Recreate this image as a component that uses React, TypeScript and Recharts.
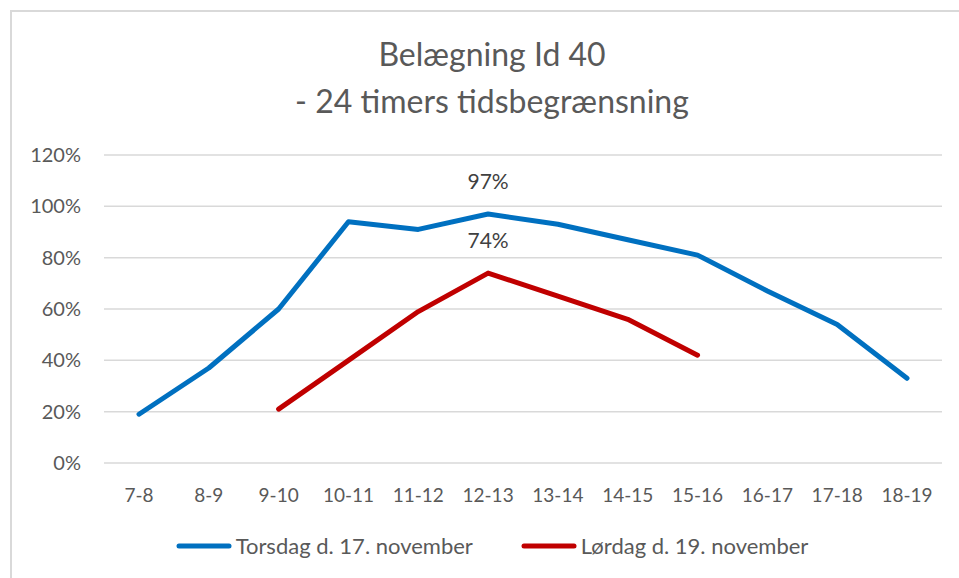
import {
  CartesianGrid,
  LabelList,
  Legend,
  Line,
  LineChart,
  XAxis,
  YAxis,
} from 'recharts';

const categories = ['7-8', '8-9', '9-10', '10-11', '11-12', '12-13', '13-14', '14-15', '15-16', '16-17', '17-18', '18-19'];
const torsdag = [19, 37, 60, 94, 91, 97, 93, 87, 81, 67, 54, 33];
const loerdag = [null, null, 21, 40, 59, 74, 65, 56, 42, null, null, null];
const yTicks = [0, 20, 40, 60, 80, 100, 120];
const labelledCategory = '12-13';

const seriesNames = {
  torsdag: 'Torsdag d. 17. november',
  loerdag: 'Lørdag d. 19. november',
};

const data = categories.map((hour, i) => ({
  hour,
  torsdag: torsdag[i],
  loerdag: loerdag[i],
}));

const font = 'Lato, "Noto Sans", sans-serif';
const textColor = '#595959';
const blue = '#0070C0';
const red = '#C00000';

function PeakLabel(props: any) {
  const { x, y, value, index } = props;
  if (categories[index] !== labelledCategory || value == null) return null;
  return (
    <text
      x={x}
      y={y - 25}
      textAnchor="middle"
      fill="#404040"
      fontSize={21}
      fontFamily={font}
    >
      {value}%
    </text>
  );
}

function LegendContent() {
  const items = [
    { name: seriesNames.torsdag, color: blue },
    { name: seriesNames.loerdag, color: red },
  ];
  return (
    <div
      style={{
        display: 'flex',
        justifyContent: 'center',
        alignItems: 'center',
        gap: 48,
        fontFamily: font,
        fontSize: 22,
        color: textColor,
      }}
    >
      {items.map((it) => (
        <div key={it.name} style={{ display: 'flex', alignItems: 'center' }}>
          <svg width={56} height={8} style={{ marginRight: 4 }}>
            <line x1={3} y1={4} x2={53} y2={4} stroke={it.color} strokeWidth={5} strokeLinecap="round" />
          </svg>
          <span>{it.name}</span>
        </div>
      ))}
    </div>
  );
}

export default function App() {
  return (
    <div
      style={{
        position: 'absolute',
        left: 0,
        top: 0,
        width: 959,
        height: 578,
        overflow: 'hidden',
        background: '#fff',
      }}
    >
      <div
        style={{
          position: 'absolute',
          left: 10,
          top: 10,
          width: 1100,
          height: 800,
          border: '2px solid #D9D9D9',
          boxSizing: 'border-box',
        }}
      />
      <div
        style={{
          position: 'absolute',
          left: 0,
          top: 30,
          width: 984,
          textAlign: 'center',
          fontFamily: font,
          fontSize: 32,
          lineHeight: '47px',
          color: textColor,
        }}
      >
        <div>Belægning Id 40</div>
        <div>- 24 timers tidsbegrænsning</div>
      </div>
      <div style={{ position: 'absolute', left: 0, top: 0 }}>
        <LineChart
          width={959}
          height={578}
          data={data}
          margin={{ top: 155, right: 17, bottom: 65, left: 0 }}
        >
          <CartesianGrid vertical={false} stroke="#D9D9D9" strokeWidth={1.5} />
          <XAxis
            dataKey="hour"
            axisLine={false}
            tickLine={false}
            tickSize={0}
            tickMargin={26}
            height={50}
            padding={{ left: 35, right: 35 }}
            interval={0}
            tick={{ fill: textColor, fontSize: 19, fontFamily: font }}
          />
          <YAxis
            domain={[0, 120]}
            ticks={yTicks}
            axisLine={false}
            tickLine={false}
            tickSize={0}
            tickMargin={23}
            width={104}
            tickFormatter={(v: number) => `${v}%`}
            tick={{ fill: textColor, fontSize: 20, fontFamily: font }}
          />
          <Legend
            verticalAlign="middle"
            layout="horizontal"
            content={<LegendContent />}
            wrapperStyle={{ left: 0, top: 532, width: 984 }}
          />
          <Line
            type="linear"
            dataKey="torsdag"
            name={seriesNames.torsdag}
            stroke={blue}
            strokeWidth={5}
            strokeLinecap="round"
            strokeLinejoin="round"
            dot={false}
            activeDot={false}
            isAnimationActive={false}
          >
            <LabelList dataKey="torsdag" content={<PeakLabel />} />
          </Line>
          <Line
            type="linear"
            dataKey="loerdag"
            name={seriesNames.loerdag}
            stroke={red}
            strokeWidth={5}
            strokeLinecap="round"
            strokeLinejoin="round"
            dot={false}
            activeDot={false}
            isAnimationActive={false}
          >
            <LabelList dataKey="loerdag" content={<PeakLabel />} />
          </Line>
        </LineChart>
      </div>
    </div>
  );
}
